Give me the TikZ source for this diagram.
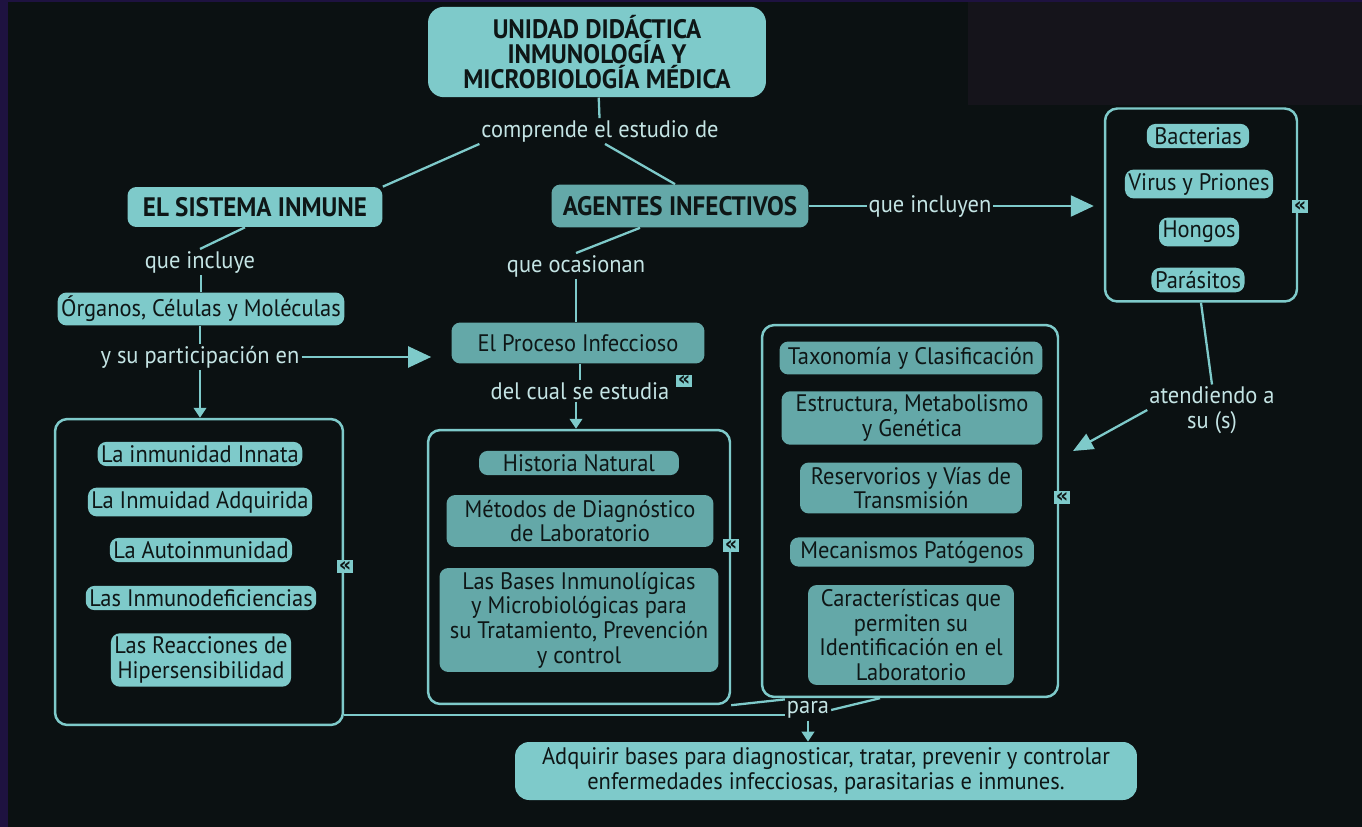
\documentclass[tikz,border=0pt]{standalone}
\usepackage{fontspec}
\setmainfont{PT Sans}[FakeStretch=0.94]
\newfontfamily\markfont{DejaVu Sans}
\usetikzlibrary{arrows.meta}
\definecolor{bgdark}{HTML}{0B1112}
\definecolor{bandpurple}{HTML}{1E1240}
\definecolor{cornerdark}{HTML}{15141B}
\definecolor{teallight}{HTML}{7ECACA}
\definecolor{tealdark}{HTML}{64A8A8}
\definecolor{inkdark}{HTML}{0E1616}
\definecolor{labeltext}{HTML}{C4E4E4}
\newcommand\conceptfont{\fontsize{13.6}{14}\selectfont}
\newcommand\headfont{\fontsize{15.2}{14}\selectfont\bfseries}

\begin{document}
\begin{tikzpicture}[x=0.02cm,y=-0.02cm,
    concept/.style={rounded corners=5pt,fill=teallight,text=inkdark,align=center,inner xsep=2pt,inner ysep=2pt,font=\conceptfont},
    conceptdark/.style={concept,fill=tealdark},
    headline/.style={concept,font=\headfont,inner xsep=6pt,inner ysep=5pt},
    frame/.style={draw=teallight,line width=1.4pt,rounded corners=7pt},
    phrase/.style={text=labeltext,font=\conceptfont,align=center,inner sep=1pt},
    link/.style={draw=teallight,line width=1.3pt},
    bigarrow/.style={link,-{Triangle[length=0.46cm,width=0.42cm]}},
    smallarrow/.style={link,-{Triangle[length=0.2cm,width=0.25cm]}},
    marker/.style={fill=teallight,text=inkdark,font=\markfont\fontsize{11}{11}\selectfont\bfseries,inner sep=0pt,minimum width=0.32cm,minimum height=0.26cm,text height=0.2cm,text depth=0cm}]
  \fill[bgdark] (0,0) rectangle (1362,827);
  \fill[cornerdark] (968,0) rectangle (1362,105);
  \fill[bandpurple] (0,0) rectangle (8,827);
  \fill[bandpurple] (0,0) rectangle (1362,2);
  \useasboundingbox (0,0) rectangle (1362,827);

  \node[headline,fill=teallight,minimum width=6.76cm,minimum height=1.78cm,rounded corners=9pt] (title) at (597,52)
    {UNIDAD DIDÁCTICA\\INMUNOLOGÍA Y\\MICROBIOLOGÍA MÉDICA};
  \node[phrase] (comprende) at (600,131) {comprende el estudio de};
  \node[headline,minimum width=5.1cm,minimum height=0.8cm,inner ysep=2pt] (sistema) at (255,207) {EL SISTEMA INMUNE};
  \node[headline,fill=tealdark,minimum width=5.14cm,minimum height=0.86cm,inner ysep=2pt] (agentes) at (680,206) {AGENTES INFECTIVOS};

  \node[phrase] (incluyen) at (930,206) {que incluyen};
  \node[frame,minimum width=3.84cm,minimum height=3.86cm] (microbios) at (1201,205) {};
  \node[concept] (bacterias) at (1198,136) {\,Bacterias\,};
  \node[concept] (virus) at (1199,184) {Virus y Priones};
  \node[concept] (hongos) at (1199,232) {Hongos};
  \node[concept] (parasitos) at (1198,280) {Parásitos};
  \node[marker] (markmicro) at (1300,207) {«};

  \node[phrase] (atendiendo) at (1212,410) {atendiendo a\\su (s)};
  \coordinate (atendtip) at (1073,451);

  \node[phrase] (incluye) at (200,262) {que incluye};
  \node[concept] (organos) at (201,309) {Órganos, Células y Moléculas};
  \node[phrase] (participa) at (200,357) {y su participación en};

  \node[phrase] (ocasionan) at (576,266) {que ocasionan};
  \node[conceptdark,minimum width=5.06cm,minimum height=0.82cm] (proceso) at (578,343) {El Proceso Infeccioso};
  \node[phrase] (estudia) at (580,391) {del cual se estudia};
  \node[marker] (markproc) at (684,381) {«};

  \node[frame,minimum width=5.76cm,minimum height=6.12cm] (inmuneframe) at (199,572) {};
  \node[concept] (innata) at (200,454) {La inmunidad Innata};
  \node[concept] (adquirida) at (200,502) {La Inmuidad Adquirida};
  \node[concept] (autoinm) at (201,550) {La Autoinmunidad};
  \node[concept] (deficiencias) at (201,598) {Las Inmunodeficiencias};
  \node[concept] (hipersens) at (201,660) {Las Reacciones de\\Hipersensibilidad};
  \node[marker] (markinmune) at (345,566) {«};

  \node[frame,minimum width=6.04cm,minimum height=5.48cm] (procframe) at (579,567) {};
  \node[conceptdark,minimum width=4cm] (historia) at (579,463) {Historia Natural};
  \node[conceptdark,minimum width=5.34cm,minimum height=1.04cm] (metodos) at (580,521) {Métodos de Diagnóstico\\de Laboratorio};
  \node[conceptdark,minimum width=5.58cm,minimum height=2.08cm] (bases) at (579,620) {Las Bases Inmunolígicas\\y Microbiológicas para\\su Tratamiento, Prevención\\y control};
  \node[marker] (markproc2) at (731,545) {«};

  \node[frame,minimum width=5.92cm,minimum height=7.44cm] (agentframe) at (910,511) {};
  \node[conceptdark,minimum width=5.26cm,minimum height=0.66cm] (taxonomia) at (911,358) {Taxonomía y Clasificación};
  \node[conceptdark,minimum width=5.22cm,minimum height=1cm] (estructura) at (912,418) {Estructura, Metabolismo\\y Genética};
  \node[conceptdark,minimum width=4.44cm,minimum height=1.02cm] (reservorios) at (911,488) {Reservorios y Vías de\\Transmisión};
  \node[conceptdark,minimum width=4.88cm] (mecanismos) at (912,552) {Mecanismos Patógenos};
  \node[conceptdark,minimum width=4.12cm,minimum height=2cm] (caracteristicas) at (911,635) {Características que\\permiten su\\Identificación en el\\Laboratorio};
  \node[marker] (markagent) at (1062,497) {«};

  \node[phrase] (para) at (808,710) {para};
  \node[concept,minimum width=12.44cm,minimum height=1.16cm,rounded corners=8pt] (final) at (826,771)
    {Adquirir bases para diagnosticar, tratar, prevenir y controlar\\enfermedades infecciosas, parasitarias e inmunes.};

  \draw[link] (title) -- (comprende);
  \draw[link] (comprende.south west) -- (sistema.north east);
  \draw[link] ([xshift=0.1cm]comprende.south) -- ([xshift=-0.1cm]agentes.north);
  \draw[link] (agentes.east) -- (incluyen.west);
  \draw[bigarrow] (incluyen.east) -- ([xshift=-0.2cm]microbios.west |- incluyen.east);
  \draw[link] (microbios.south) -- (atendiendo.north);
  \draw[bigarrow,-{Triangle[length=0.4cm,width=0.34cm]}] (atendiendo.west) -- (atendtip);
  \draw[link] ([xshift=-0.2cm]sistema.south) -- (incluye.north);
  \draw[link] (incluye.south -| organos.north) -- (organos.north);
  \draw[link] (organos.south -| participa.north) -- (participa.north);
  \draw[bigarrow] (participa.east) -- ([xshift=-0.4cm]proceso.west |- participa.east);
  \draw[smallarrow] (participa.south) -- (inmuneframe.north -| participa.south);
  \draw[link] ([xshift=-0.8cm]agentes.south) -- (ocasionan.north);
  \draw[link] (ocasionan.south) -- (proceso.north -| ocasionan.south);
  \draw[link] (proceso.south -| estudia.north) -- (estudia.north);
  \draw[smallarrow] ([xshift=-0.08cm]estudia.south) -- ([xshift=-0.08cm]procframe.north -| estudia.south);
  \draw[link] ([yshift=-0.1cm]inmuneframe.east |- para.west) -- ([yshift=-0.1cm]para.west);
  \draw[link] (procframe.south east) -- (para.north west);
  \draw[link] (para.east) -- ([xshift=-0.6cm]agentframe.south);
  \draw[smallarrow] (para.south) -- (final.north -| para.south);
\end{tikzpicture}
\end{document}
